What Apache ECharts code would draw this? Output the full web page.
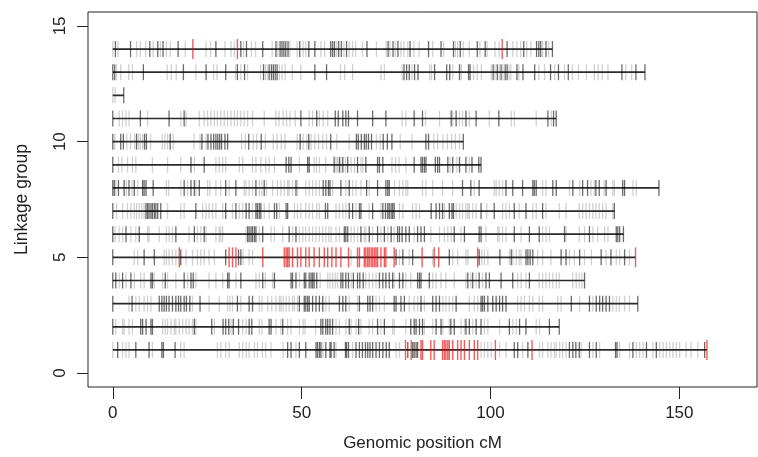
<!DOCTYPE html>
<html><head><meta charset="utf-8">
<script src="https://cdn.jsdelivr.net/npm/echarts@6/dist/echarts.min.js"></script>
<style>html,body{margin:0;padding:0;background:#fff}#c{width:758px;height:457px}</style>
</head><body><div id="c"></div>
<script>
// Linkage group lengths (cM), groups 1..14
const groupLength = [157.3, 118.2, 139.0, 124.9, 138.4, 135.2, 132.8, 144.6, 97.5, 92.8, 117.4, 2.9, 140.9, 116.4];

// single markers (light) per group
const light1 = [0,2.6,3.5,4.3,10.5,18.0,18.9,27.7,28.6,29.9,30.8,33.5,34.4,35.3,36.1,37.5,38.3,39.6,40.5,41.9,45.1,48.5,55.6,59.1,63.5,75.0,75.9,97.5,98.4,99.3,100.2,102.4,104.1,108.5,113.0,113.8,115.2,116.0,116.9,117.4,118.3,119.1,120.0,124.0,127.1,128.9,134.2,136.8,138.6,139.5,140.4,143.0,144.8,145.7,146.6,147.5,148.3,149.2,150.1,151.8,153.1,154.9];
const light2 = [0.8,2.6,3.0,4.3,5.2,13.2,13.9,14.5,15.4,16.3,16.7,17.6,18.5,19.4,20.2,21.1,22.0,26.9,31.3,34.4,35.3,38.8,39.5,43.2,44.5,46.3,47.2,49.4,50.4,50.9,53.7,59.1,60.0,61.7,63.1,64.4,65.7,67.9,68.8,71.0,74.1,74.5,77.6,82.5,84.7,87.4,89.1,92.2,93.1,95.3,98.4,99.3,102.4,105.9,106.8,112.1,113.0];
const light3 = [4.3,6.1,7.0,8.3,9.2,10.1,21.1,25.5,28.2,30.4,31.0,31.7,33.9,38.8,39.5,41.0,42.1,43.2,44.1,44.5,45.1,45.9,46.7,47.6,48.1,48.9,56.4,57.3,62.6,64.8,69.7,70.6,71.9,78.5,79.8,80.7,82.5,87.4,88.2,89.1,90.0,94.4,95.7,96.6,107.2,108.1,109.0,110.3,111.2,112.9,113.8,117.8,118.7,123.6,127.1,132.4,133.3,134.1,135.5,136.8];
const light4 = [1.7,3.5,5.7,7.4,8.3,11.0,13.2,14.5,16.7,19.8,22.0,25.5,27.3,29.1,32.6,37.9,38.8,40.4,42.3,49.4,54.9,56.9,57.5,58.2,58.9,59.5,63.1,67.0,67.9,68.8,69.7,74.5,77.6,78.9,84.7,85.6,86.9,88.2,90.4,93.5,94.8,96.2,97.9,107.2,108.1,109.4,112.9,113.8,114.7,115.6,116.5,117.4,118.2,121.8,122.7,123.5,124.2];
const light5 = [5.7,6.6,13.6,14.2,14.9,15.8,16.7,19.4,21.1,22.4,23.3,24.2,25.5,26.9,34.5,36.1,37.0,63.1,75.9,78.5,84.7,90.0,91.3,93.5,94.0,97.7,98.4,99.3,105.0,105.9,106.8,107.6,108.1,112.5,113.8,116.0,120.9,122.2,124.9,126.7,130.6,133.3,134.2,136.8];
const light6 = [0.6,1.7,2.6,4.8,6.1,9.2,9.6,12.3,14.2,14.9,15.8,20.2,22.4,23.3,24.7,27.3,28.2,28.6,29.1,35.3,38.8,41.9,42.8,45.0,47.6,49.4,50.3,51.1,52.0,52.9,53.8,54.7,55.6,56.4,57.2,57.8,59.1,60.0,63.1,63.9,64.8,66.6,67.0,68.8,71.0,72.8,74.5,79.8,84.2,86.5,87.8,88.7,89.6,92.2,98.8,101.9,102.3,103.2,104.1,108.1,113.8,114.7,115.6,120.0,123.5,124.9,127.1,128.4,130.2,131.1];
const light7 = [1.0,2.6,3.9,4.8,5.7,6.3,7.0,7.7,8.3,14.5,18.0,18.9,23.8,24.7,25.5,26.4,27.3,29.1,31.7,33.5,34.4,37.0,40.1,41.4,44.1,48.1,48.9,49.8,51.1,52.0,52.9,54.0,54.7,59.1,60.0,60.9,61.7,64.4,67.9,71.0,75.9,76.8,79.4,80.3,81.2,87.8,90.9,91.8,92.6,93.5,94.0,94.4,95.3,96.2,99.0,103.2,104.1,105.0,107.6,111.2,112.1,114.7,118.2,120.0,123.5,124.4,125.3,126.2,127.1,127.9,128.8,129.7,130.6,132.4];
const light8 = [0.8,3.6,5.1,6.6,14.2,14.8,18.0,19.8,22.0,25.1,25.7,27.3,28.6,30.8,34.8,35.3,36.1,37.0,38.8,39.5,40.7,42.3,43.6,44.5,45.4,46.3,46.7,47.6,48.9,51.1,52.0,52.9,53.8,54.7,58.2,61.7,63.5,64.4,65.7,67.9,74.6,75.9,76.8,77.6,78.1,82.0,82.9,84.7,87.3,90.0,95.7,101.0,101.5,102.3,103.2,113.8,114.7,120.9,123.6,126.6,127.5,130.1,132.4,132.8,137.7,138.6];
const light9 = [1.5,2.4,3.9,5.2,6.1,10.5,14.5,18.0,21.6,27.3,28.2,29.1,29.9,33.5,34.4,37.0,37.9,39.2,40.5,41.4,42.8,49.4,53.3,53.9,54.7,56.4,59.1,59.5,60.4,61.6,63.1,64.0,65.7,66.2,73.9,74.9,75.8,77.6,89.3,91.1,94.4];
const light10 = [0.5,3.7,4.7,5.8,6.8,7.3,7.9,10.0,13.1,13.8,14.5,16.0,21.5,23.1,24.7,34.1,35.1,37.2,38.1,40.4,42.5,43.5,44.6,45.6,48.8,50.4,51.4,52.5,53.5,54.5,55.6,56.6,59.3,62.6,69.8,70.8,76.1,79.2,85.0,86.0,87.4,88.6,89.7,90.7,91.8];
const light11 = [1.7,2.6,3.5,4.3,9.2,18.0,19.4,22.9,24.2,25.1,26.0,26.9,27.7,28.6,29.5,30.4,31.3,32.2,33.0,33.9,34.8,35.7,37.0,40.1,43.2,44.0,45.1,46.0,46.9,48.3,52.0,52.9,54.7,55.7,56.9,76.6,77.6,82.8,86.5,90.0,91.8,92.6,94.4,99.7,105.5,106.3,112.1,116.1];
const light12 = [0,0.6];
const light13 = [1.0,2.1,4.2,5.2,14.4,15.5,16.8,22.0,26.7,27.6,32.5,33.9,35.7,39.1,40.4,40.9,44.1,44.8,45.6,47.5,49.8,60.3,61.4,63.5,71.0,71.9,76.6,79.2,83.9,84.4,90.0,92.3,95.5,96.5,97.6,100.2,101.2,102.3,103.3,104.9,105.4,107.5,112.8,114.3,117.0,119.6,121.7,123.3,125.4,127.5,128.5,129.6,131.1,135.8,137.4];
const light14 = [0,1.4,6.3,7.3,8.7,10.7,12.6,14.2,15.2,19.2,24.7,25.9,29.7,31.3,32.2,34.6,36.7,37.8,42.2,43.7,46.9,48.8,50.4,51.1,55.1,56.1,59.3,61.2,62.6,63.5,64.3,66.1,69.8,72.4,73.4,74.8,76.3,77.1,78.1,79.7,81.1,84.7,87.6,90.7,91.3,92.8,94.4,97.2,99.1,101.2,102.3,105.9,107.0,108.0,109.6,110.7,113.8,115.4];

// co-located marker stacks (dark) per group
const dark1 = [1.3,6.1,9.6,13.0,13.4,16.5,46.3,47.2,49.4,51.1,53.8,54.2,54.7,55.1,56.4,57.5,57.8,58.6,61.6,61.9,62.4,64.4,65.3,66.1,66.9,67.5,68.1,68.8,69.7,70.6,71.5,72.4,73.2,78.1,79.4,79.8,80.3,80.7,106.3,107.2,109.9,120.9,121.8,122.6,123.5,126.2,128.0,133.1,133.5,137.7,141.3,143.9,156.7];
const dark2 = [0,7.4,7.9,8.8,10.1,10.5,21.6,26.2,29.2,29.9,30.7,31.9,33.3,36.1,36.8,41.4,41.9,45.0,55.1,55.6,56.4,56.9,57.5,58.2,62.6,65.1,70.1,71.9,78.9,79.8,80.3,81.2,82.0,85.6,86.9,89.5,90.4,93.5,94.4,96.2,97.5,105.0,107.7,109.4,115.6,118.2];
const dark3 = [0,5.1,12.3,13.0,13.6,14.2,14.9,15.8,16.7,17.4,18.0,18.9,19.5,20.4,23.1,33.0,36.1,37.0,49.4,50.7,51.1,51.6,52.0,52.9,53.8,54.7,55.6,60.0,60.9,61.7,65.3,67.5,68.1,68.8,74.5,75.0,76.3,77.2,81.6,84.7,85.6,86.5,90.9,97.5,97.9,98.4,99.3,100.6,101.5,102.4,103.2,104.1,121.4,126.2,128.0,128.9,129.7,130.6,131.5,139.0];
const dark4 = [0,0.8,2.6,4.8,10.1,10.5,13.9,18.9,20.7,21.3,30.4,30.8,33.9,39.7,42.8,47.2,47.6,48.5,50.7,51.1,52.0,52.5,52.9,53.3,54.0,60.4,60.9,61.7,62.4,63.7,64.8,65.4,66.3,70.6,71.5,72.3,73.2,74.1,75.9,76.8,80.7,81.2,81.6,83.8,94.0,95.3,97.0,98.8,99.7,102.8,105.9,110.3,124.9];
const dark5 = [0,8.3,11.0,18.0,29.9,33.3,33.9,75.0,76.8,79.4,89.1,97.0,102.5,105.5,109.4,109.9,110.5,111.2,118.7,120.0,123.6,129.3,131.9,135.5];
const dark6 = [0,3.5,7.0,16.7,21.6,24.2,35.7,36.1,36.6,37.0,37.5,37.9,39.7,46.7,48.5,61.3,61.7,62.2,65.7,67.9,70.1,71.9,73.7,75.4,75.9,76.6,77.6,78.5,80.7,81.6,82.5,90.4,93.1,97.0,97.5,106.3,110.3,112.9,119.6,126.2,133.3,133.7,134.2,135.2];
const dark7 = [0,8.8,9.2,9.6,10.1,10.5,11.0,11.4,11.9,12.7,22.0,29.9,32.6,35.3,36.1,37.9,38.3,38.8,39.2,42.8,43.4,45.9,46.3,56.3,56.9,62.6,63.5,65.3,65.7,68.8,71.5,72.2,72.8,73.2,73.7,74.1,74.5,84.3,85.6,86.5,87.3,89.1,89.8,90.2,97.5,101.0,106.3,109.4,113.8,132.8];
const dark8 = [0,0.4,1.5,3.0,4.3,5.7,7.9,8.3,8.8,10.7,18.9,20.7,21.6,22.9,29.9,32.6,37.9,40.1,48.5,55.7,56.4,57.1,57.5,60.4,62.6,67.2,70.1,72.3,72.8,73.2,92.6,94.8,97.0,104.1,105.9,108.5,111.2,111.6,112.1,116.5,117.4,121.8,124.4,125.7,127.9,128.8,130.6,135.0,135.5,144.6];
const dark9 = [0,20.7,24.2,45.9,46.6,47.2,51.6,52.0,58.6,60.0,60.9,62.2,64.8,67.0,70.1,70.6,71.5,79.8,81.6,82.0,82.5,82.9,85.4,86.0,86.5,88.7,90.0,91.8,93.5,95.1,96.9,97.5];
const dark10 = [0,2.1,2.8,6.3,8.4,8.9,15.2,23.6,25.2,26.0,26.7,27.3,27.8,28.3,28.8,29.7,30.4,36.0,39.3,49.6,51.9,57.7,64.5,65.0,65.8,66.6,67.1,67.7,68.5,71.6,72.7,73.9,82.9,83.6,92.8];
const dark11 = [0,7.3,14.9,18.9,49.8,54.0,58.9,59.7,60.9,61.7,62.4,64.8,68.8,72.3,79.8,82.0,89.6,90.9,93.5,96.2,102.2,115.2,116.7,117.4];
const dark12 = [2.9];
const dark13 = [0,0.5,8.1,18.7,24.7,29.9,33.0,34.9,39.9,41.4,42.0,42.5,43.0,43.5,53.5,56.6,77.1,77.8,78.5,79.9,80.8,85.2,88.4,89.2,91.8,94.2,94.6,100.7,101.8,102.8,103.9,104.4,107.0,108.6,111.7,115.9,118.0,120.6,134.8,138.5,140.9];
const dark14 = [0.7,4.7,9.8,11.9,13.3,17.3,27.3,33.9,35.4,39.7,43.2,44.3,44.8,45.3,45.8,46.4,49.5,51.9,53.5,57.7,58.2,58.7,59.8,60.5,61.9,67.3,72.9,74.2,75.5,78.7,83.6,86.9,90.2,92.0,96.5,98.6,104.4,108.8,112.2,112.8,113.3,114.7,116.4];

// highlighted (red) markers
const red1 = [77.5,79.0,81.6,82.0,84.2,85.1,87.3,87.8,88.2,88.7,89.1,90.0,91.3,92.2,93.1,94.4,95.7,96.6,101.3,111.0,157.3];
const red5 = [17.6,30.8,31.7,32.6,39.7,45.4,45.9,46.3,46.7,47.6,48.9,49.8,51.1,52.0,53.3,54.7,56.0,56.9,58.0,59.1,60.4,62.4,64.8,65.3,66.6,67.0,67.5,67.9,68.4,68.8,69.3,69.7,70.1,71.0,71.9,72.3,74.5,81.9,85.1,86.3,96.6,138.4];
const red14 = [21.2,33.0,103.1];

const xTicks = [0, 50, 100, 150];
const yTicks = [0, 5, 10, 15];

const lightGroups = [light1,light2,light3,light4,light5,light6,light7,light8,light9,light10,light11,light12,light13,light14];
const darkGroups = [dark1,dark2,dark3,dark4,dark5,dark6,dark7,dark8,dark9,dark10,dark11,dark12,dark13,dark14];
const redGroups = {1: red1, 5: red5, 14: red14};

const series = [];
groupLength.forEach((len, i) => {
  const g = i + 1;
  series.push({type:'line', data:[[0,g],[len,g]], symbol:'none', silent:true, z:3,
    lineStyle:{color:'#2a2a2a', width:1.7}});
});
const lightData = [], darkData = [], redData = [];
lightGroups.forEach((arr, i) => arr.forEach(p => lightData.push([p, i + 1])));
darkGroups.forEach((arr, i) => arr.forEach(p => darkData.push([p, i + 1])));
Object.keys(redGroups).forEach(k => redGroups[k].forEach(p => redData.push([p, +k])));
series.push({type:'scatter', data:lightData, symbol:'rect', symbolSize:[1.3,16], silent:true, z:2,
  itemStyle:{color:'rgba(0,0,0,0.23)'}});
series.push({type:'scatter', data:darkData, symbol:'rect', symbolSize:[1.3,16], silent:true, z:4,
  itemStyle:{color:'rgba(0,0,0,0.72)'}});
series.push({type:'scatter', data:redData, symbol:'rect', symbolSize:[1.4,20], silent:true, z:5,
  itemStyle:{color:'rgba(235,0,0,0.8)'}});

const font = 'Liberation Sans, Arial, sans-serif';
const chart = echarts.init(document.getElementById('c'));
chart.setOption({
  animation:false,
  backgroundColor:'#fff',
  grid:{left:88, top:12, width:669, height:375, show:true, borderColor:'#222', borderWidth:1, backgroundColor:'transparent'},
  xAxis:{type:'value', min:-6.56, max:170.56,
    axisLine:{show:false, onZero:false},
    axisTick:{show:true, customValues:xTicks, length:12, lineStyle:{color:'#222', width:1}},
    axisLabel:{customValues:xTicks, margin:18, fontSize:17, color:'#222', fontFamily:font},
    splitLine:{show:false},
    name:'Genomic position cM', nameLocation:'middle', nameGap:48,
    nameTextStyle:{fontSize:17, color:'#222', fontFamily:font}},
  yAxis:{type:'value', min:-0.6, max:15.6,
    axisLine:{show:false, onZero:false},
    axisTick:{show:true, customValues:yTicks, length:11, lineStyle:{color:'#222', width:1}},
    axisLabel:{customValues:yTicks, rotate:90, margin:19, fontSize:17, color:'#222', fontFamily:font},
    splitLine:{show:false},
    name:'Linkage group', nameLocation:'middle', nameGap:57,
    nameTextStyle:{fontSize:17.5, color:'#222', fontFamily:font}},
  series:series
});
</script>
</body></html>
